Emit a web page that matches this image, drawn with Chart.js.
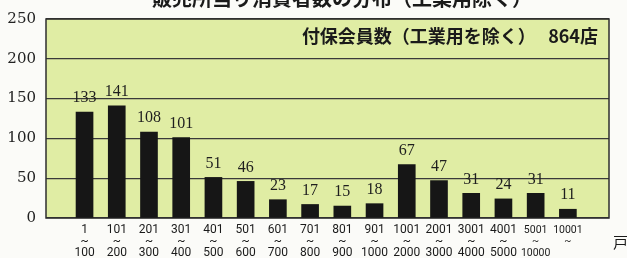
<!DOCTYPE html>
<html>
<head>
<meta charset="utf-8">
<script src="https://cdn.jsdelivr.net/npm/chart.js"></script>
<style>
  html, body { margin: 0; padding: 0; background: #fbfbf8; overflow: hidden; }
  #wrap { position: relative; width: 627px; height: 258px; }
  #title {
    position: absolute; left: 0; width: 684px; top: -12px; text-align: center;
    font: bold 20px "Noto Sans CJK JP", sans-serif; line-height: 20px; color: #1a1a1a;
  }
  #note {
    position: absolute; right: 29px; top: 25px;
    font: bold 18px "Noto Sans CJK JP", sans-serif; line-height: 20px; color: #1a1a1a;
    white-space: pre;
  }
  #unit {
    position: absolute; left: 613px; top: 233px;
    font: 15px "Noto Sans CJK JP", sans-serif; line-height: 18px; color: #1a1a1a;
  }
</style>
</head>
<body>
<div id="wrap">
  <canvas id="chart" width="627" height="258"></canvas>
  <div id="title">販売所当り消費者数の分布（工業用除く）</div>
  <div id="note">付保会員数（工業用を除く）   864店</div>
  <div id="unit">戸</div>
</div>
<script>
// ==================== DATA ====================
const rangeFrom = ['1', '101', '201', '301', '401', '501', '601', '701', '801', '901', '1001', '2001', '3001', '4001', '5001', '10001'];
const rangeTo = ['100', '200', '300', '400', '500', '600', '700', '800', '900', '1000', '2000', '3000', '4000', '5000', '10000', ''];
const storeCounts = [133, 141, 108, 101, 51, 46, 23, 17, 15, 18, 67, 47, 31, 24, 31, 11];
const yTicks = [0, 50, 100, 150, 200, 250];

const SERIF = '"Liberation Serif", "DejaVu Serif", serif';
const SANS = 'Roboto, "Liberation Sans", sans-serif';

// ==================== PLUGINS ====================
const framePlugin = {
    id: 'frame',
    beforeDraw(chart) {
        const { ctx, chartArea: a } = chart;
        ctx.save();
        ctx.fillStyle = '#e0eda4';
        ctx.fillRect(a.left, a.top, a.right - a.left, a.bottom - a.top);
        ctx.restore();
    },
    beforeDatasetsDraw(chart) {
        const { ctx, chartArea: a } = chart;
        ctx.save();
        ctx.strokeStyle = '#2e2e2e';
        ctx.lineWidth = 1.5;
        ctx.strokeRect(a.left, a.top, a.right - a.left, a.bottom - a.top);
        ctx.restore();
    }
};

const valueLabels = {
    id: 'valueLabels',
    afterDatasetsDraw(chart) {
        const { ctx } = chart;
        const meta = chart.getDatasetMeta(0);
        ctx.save();
        ctx.font = '16px ' + SERIF;
        ctx.fillStyle = '#1e1e1e';
        ctx.textAlign = 'center';
        ctx.textBaseline = 'bottom';
        meta.data.forEach((bar, i) => {
            ctx.fillText(String(storeCounts[i]), bar.x, bar.y - 6);
        });
        ctx.restore();
    }
};

// ==================== CHART ====================
const ctx = document.getElementById('chart');
new Chart(ctx, {
    type: 'bar',
    data: {
        datasets: [{
            data: storeCounts.map((v, i) => ({ x: i, y: v })),
            backgroundColor: '#161616',
            borderWidth: 0,
            barThickness: 17
        }]
    },
    options: {
        responsive: false,
        animation: false,
        events: [],
        layout: { padding: { top: 11, right: 18, left: 0, bottom: 0 } },
        plugins: {
            legend: { display: false },
            tooltip: { enabled: false }
        },
        scales: {
            x: {
                type: 'linear',
                min: -0.65,
                max: 15.73,
                afterBuildTicks: scale => {
                    scale.ticks = rangeFrom.map((_, i) => ({ value: i }));
                },
                afterFit: scale => { scale.height = 40; },
                grid: { display: false, drawTicks: false },
                border: { display: false },
                ticks: {
                    autoSkip: false,
                    maxRotation: 0,
                    padding: 6,
                    color: '#1a1a1a',
                    font: c => {
                        const i = c.index;
                        const wide = i !== undefined && Math.max(rangeFrom[i].length, rangeTo[i].length) >= 5;
                        return { family: SANS, size: wide ? 10.5 : 12, lineHeight: wide ? 1.12 : 0.98 };
                    },
                    callback: value => {
                        const i = Math.round(value);
                        return rangeTo[i] ? [rangeFrom[i], '~', rangeTo[i]] : [rangeFrom[i], '~'];
                    }
                }
            },
            y: {
                min: 0,
                max: 250,
                afterBuildTicks: scale => {
                    scale.ticks = yTicks.map(v => ({ value: v }));
                },
                afterFit: scale => { scale.width = 46; },
                grid: { color: '#3a3a3a', lineWidth: 1.3, drawTicks: false },
                border: { display: false },
                ticks: {
                    padding: 10,
                    color: '#222',
                    font: { family: '"DejaVu Serif", serif', size: 15 }
                }
            }
        }
    },
    plugins: [framePlugin, valueLabels]
});
</script>
</body>
</html>
